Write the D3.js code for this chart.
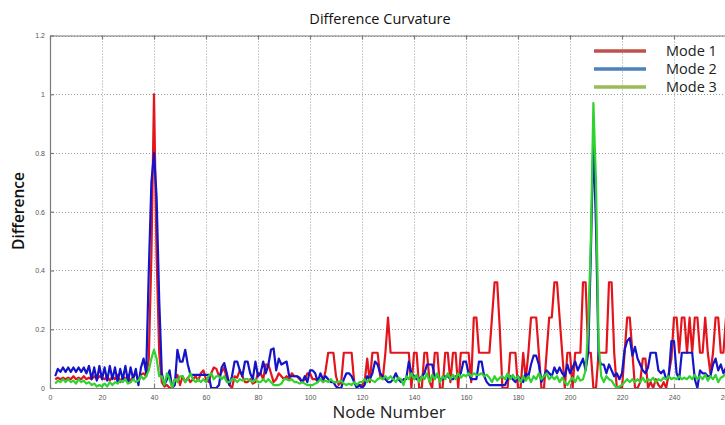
<!DOCTYPE html>
<html>
<head>
<meta charset="utf-8">
<script src="https://cdn.jsdelivr.net/npm/d3@7"></script>
<style>
  html, body { margin: 0; padding: 0; background: #fff; }
  svg { display: block; }
</style>
</head>
<body>
<svg id="chart" width="725" height="425"></svg>
<script>
// Node numbers 2..260
const nodes = d3.range(2, 261);

// Mode 1 difference curvature per node
const mode1 = [
  0.03,0.035,0.03,0.035,0.03,0.035,0.03,0.04,0.03,
  0.035,0.03,0.04,0.03,0.035,0.03,0.04,0.03,0.04,0.035,
  0.03,0.04,0.025,0.04,0.03,0.045,0.02,0.04,0.03,0.045,
  0.02,0.04,0.05,0.025,0.045,0.05,0.04,0.1,0.45,1.0,
  0.45,0.12,0.02,0.005,0.01,0.0,0.0,0.03,0.045,0.01,
  0.04,0.02,0.035,0.02,0.03,0.04,0.025,0.05,0.06,0.03,
  0.02,0.05,0.07,0.065,0.04,0.055,0.07,0.03,0.01,0.0,
  0.04,0.035,0.06,0.04,0.02,0.02,0.03,0.015,0.02,0.05,
  0.05,0.03,0.08,0.08,0.05,0.02,0.03,0.05,0.04,0.03,
  0.04,0.03,0.05,0.04,0.04,0.03,0.02,0.03,0.05,0.05,
  0.03,0.03,0.025,0.03,0.02,0.06,0.12,0.12,0.12,0.04,
  0.01,0.02,0.12,0.12,0.12,0.12,0.02,0.01,0.01,0.01,
  0.02,0.1,0.02,0.12,0.12,0.12,0.04,0.03,0.12,0.24,
  0.12,0.12,0.12,0.12,0.12,0.12,0.12,0.12,0.0,0.12,
  0.12,0.0,0.0,0.12,0.12,0.02,0.0,0.12,0.12,0.0,
  0.0,0.12,0.12,0.02,0.12,0.12,0.0,0.12,0.12,0.12,
  0.12,0.02,0.24,0.24,0.12,0.12,0.12,0.12,0.12,0.24,
  0.36,0.36,0.2,0.0,0.0,0.0,0.12,0.12,0.12,0.0,
  0.0,0.12,0.03,0.12,0.24,0.24,0.24,0.12,0.0,0.0,
  0.12,0.24,0.24,0.36,0.36,0.24,0.12,0.0,0.12,0.12,
  0.0,0.12,0.12,0.12,0.36,0.36,0.12,0.12,0.0,0.0,
  0.12,0.12,0.12,0.12,0.36,0.36,0.12,0.0,0.0,0.0,
  0.12,0.24,0.24,0.12,0.0,0.0,0.02,0.1,0.1,0.0,
  0.02,0.0,0.03,0.01,0.0,0.02,0.0,0.05,0.1,0.24,
  0.24,0.12,0.24,0.24,0.12,0.24,0.12,0.24,0.24,0.12,
  0.12,0.24,0.12,0.05,0.12,0.24,0.24,0.12,0.12,0.24
];

// Mode 2 difference curvature per node
const mode2 = [
  0.04,0.065,0.055,0.07,0.055,0.07,0.055,0.07,0.055,
  0.07,0.055,0.07,0.05,0.075,0.03,0.07,0.025,0.075,0.03,
  0.07,0.025,0.075,0.03,0.07,0.02,0.065,0.03,0.075,0.02,
  0.07,0.03,0.065,0.01,0.07,0.1,0.05,0.4,0.7,0.8,
  0.65,0.3,0.05,0.01,0.03,0.06,0.0,0.01,0.13,0.09,
  0.09,0.13,0.08,0.045,0.045,0.045,0.045,0.045,0.045,0.045,
  0.045,0.0,0.0,0.0,0.01,0.07,0.085,0.05,0.01,0.04,
  0.09,0.09,0.06,0.04,0.09,0.09,0.05,0.03,0.09,0.04,
  0.05,0.09,0.05,0.08,0.13,0.135,0.06,0.1,0.08,0.085,
  0.09,0.04,0.04,0.04,0.04,0.035,0.02,0.04,0.02,0.06,
  0.06,0.05,0.02,0.05,0.03,0.04,0.03,0.02,0.02,0.005,
  0.0,0.0,0.03,0.05,0.05,0.04,0.02,0.0,0.01,0.0,
  0.01,0.04,0.03,0.05,0.09,0.08,0.05,0.04,0.03,0.02,
  0.02,0.03,0.05,0.03,0.02,0.03,0.03,0.09,0.05,0.04,
  0.03,0.03,0.04,0.05,0.08,0.08,0.08,0.04,0.04,0.03,
  0.03,0.04,0.04,0.03,0.03,0.04,0.04,0.05,0.09,0.09,
  0.05,0.03,0.03,0.03,0.09,0.09,0.04,0.02,0.01,0.01,
  0.01,0.01,0.01,0.01,0.01,0.03,0.04,0.03,0.02,0.04,
  0.03,0.02,0.05,0.04,0.08,0.11,0.11,0.08,0.02,0.04,
  0.06,0.05,0.04,0.07,0.05,0.07,0.05,0.04,0.08,0.05,
  0.07,0.09,0.06,0.08,0.1,0.06,0.12,0.45,0.85,0.55,
  0.1,0.08,0.08,0.05,0.08,0.06,0.04,0.05,0.03,0.05,
  0.13,0.16,0.17,0.11,0.14,0.1,0.08,0.06,0.05,0.07,
  0.12,0.12,0.12,0.06,0.05,0.06,0.03,0.04,0.16,0.16,
  0.05,0.03,0.12,0.12,0.12,0.12,0.12,0.03,0.0,0.06,
  0.05,0.05,0.04,0.04,0.08,0.1,0.06,0.08,0.05,0.07
];

// Mode 3 difference curvature per node
const mode3 = [
  0.015,0.025,0.02,0.03,0.02,0.03,0.02,0.025,0.015,
  0.03,0.02,0.025,0.015,0.02,0.01,0.015,0.005,0.01,0.005,
  0.015,0.005,0.02,0.01,0.02,0.015,0.025,0.02,0.03,0.015,
  0.02,0.03,0.02,0.025,0.04,0.03,0.04,0.06,0.1,0.13,
  0.1,0.04,0.04,0.01,0.05,0.03,0.0,0.03,0.02,0.04,
  0.04,0.02,0.03,0.05,0.03,0.02,0.03,0.02,0.03,0.02,
  0.04,0.05,0.03,0.04,0.04,0.03,0.04,0.02,0.02,0.03,
  0.03,0.02,0.03,0.025,0.03,0.03,0.025,0.02,0.03,0.02,
  0.02,0.03,0.02,0.03,0.02,0.01,0.01,0.01,0.015,0.03,
  0.03,0.025,0.03,0.02,0.02,0.015,0.02,0.015,0.01,0.01,
  0.01,0.015,0.02,0.03,0.02,0.025,0.02,0.03,0.02,0.02,
  0.02,0.025,0.015,0.01,0.015,0.01,0.02,0.01,0.02,0.02,
  0.03,0.02,0.03,0.025,0.02,0.03,0.035,0.03,0.04,0.03,
  0.04,0.03,0.02,0.035,0.03,0.01,0.04,0.03,0.05,0.03,
  0.045,0.02,0.04,0.03,0.05,0.02,0.045,0.03,0.05,0.02,
  0.04,0.03,0.05,0.03,0.045,0.03,0.05,0.035,0.045,0.04,
  0.05,0.04,0.05,0.045,0.045,0.05,0.04,0.045,0.035,0.02,
  0.04,0.025,0.035,0.04,0.03,0.05,0.03,0.045,0.03,0.04,
  0.02,0.04,0.025,0.04,0.02,0.04,0.03,0.05,0.03,0.04,
  0.05,0.03,0.04,0.03,0.04,0.02,0.035,0.02,0.01,0.025,
  0.035,0.02,0.04,0.025,0.03,0.06,0.2,0.5,0.97,0.7,
  0.15,0.04,0.02,0.04,0.03,0.025,0.01,0.0,0.005,0.01,
  0.02,0.03,0.02,0.03,0.02,0.03,0.02,0.035,0.02,0.03,
  0.025,0.035,0.02,0.03,0.025,0.035,0.03,0.04,0.03,0.035,
  0.03,0.04,0.03,0.035,0.03,0.04,0.03,0.045,0.03,0.04,
  0.03,0.045,0.025,0.04,0.03,0.045,0.02,0.035,0.04,0.05
];

const seriesNames = ["Mode 1", "Mode 2", "Mode 3"];
const lineColors = ["#e3141b", "#1414c8", "#2fd22f"];
const legendColors = ["#c0504d", "#4f81bd", "#9bbb59"];

const xTicks = d3.range(0, 261, 20);
const yTicks = [0, 0.2, 0.4, 0.6, 0.8, 1, 1.2];

const svg = d3.select("#chart");
const plotLeft = 50, plotRight = 726, plotTop = 35.5, plotBottom = 388;

const x = d3.scaleLinear().domain([0, 260]).range([plotLeft, plotRight]);
const y = d3.scaleLinear().domain([0, 1.2]).range([plotBottom, plotTop]);

// dotted grid
const grid = svg.append("g").attr("stroke", "#9a9a9a").attr("stroke-width", 1)
  .attr("stroke-dasharray", "1,2");
grid.selectAll(".gx").data(xTicks.slice(1)).join("line")
  .attr("x1", d => Math.round(x(d)) + 0.5).attr("x2", d => Math.round(x(d)) + 0.5)
  .attr("y1", plotTop).attr("y2", plotBottom);
grid.selectAll(".gy").data(yTicks.slice(1)).join("line")
  .attr("x1", plotLeft).attr("x2", plotRight)
  .attr("y1", d => Math.round(y(d)) + 0.5).attr("y2", d => Math.round(y(d)) + 0.5);

// axes: ticks point inward, labels small and grey
const axisFont = "Liberation Sans, Arial, sans-serif";
const xAxis = svg.append("g").attr("transform", `translate(0,${plotBottom})`)
  .call(d3.axisBottom(x).tickValues(xTicks).tickFormat(d3.format("d")).tickSizeInner(-4).tickSizeOuter(0).tickPadding(7));
const yAxis = svg.append("g").attr("transform", `translate(${plotLeft},0)`)
  .call(d3.axisLeft(y).tickValues(yTicks).tickFormat(d => d === 0 ? "0" : d3.format("~g")(d)).tickSizeInner(-4).tickSizeOuter(0).tickPadding(5));
const xTop = svg.append("g").attr("transform", `translate(0,${plotTop})`)
  .call(d3.axisTop(x).tickValues(xTicks).tickFormat("").tickSizeInner(-4).tickSizeOuter(0));
[xAxis, yAxis, xTop].forEach(g => {
  g.select(".domain").attr("stroke", "#7a7a7a").attr("stroke-width", 1.2);
  g.selectAll(".tick line").attr("stroke", "#7a7a7a").attr("stroke-width", 1.2);
  g.selectAll(".tick text").attr("fill", "#555").attr("font-size", 7).attr("font-family", axisFont);
});

// data lines, clipped to the plot box
svg.append("clipPath").attr("id", "plot-clip").append("rect")
  .attr("x", plotLeft).attr("y", plotTop - 2).attr("width", plotRight - plotLeft).attr("height", plotBottom - plotTop + 2);
const line = d3.line().x((d, i) => x(nodes[i])).y(d => y(d));
const lines = svg.append("g").attr("clip-path", "url(#plot-clip)");
[mode1, mode2, mode3].forEach((vals, k) => {
  lines.append("path").datum(vals)
    .attr("fill", "none").attr("stroke", lineColors[k]).attr("stroke-width", 2.2)
    .attr("stroke-linejoin", "round").attr("d", line);
});

// titles
const textFont = "'Open Sans', 'Noto Sans', sans-serif";
svg.append("text").attr("x", 380).attr("y", 24).attr("text-anchor", "middle")
  .attr("font-family", textFont).attr("font-size", 14.5).attr("fill", "#111")
  .text("Difference Curvature");
svg.append("text").attr("x", 389).attr("y", 418).attr("text-anchor", "middle")
  .attr("font-family", textFont).attr("font-size", 17).attr("fill", "#222")
  .text("Node Number");
svg.append("text").attr("transform", "translate(24,211) rotate(-90)").attr("text-anchor", "middle")
  .attr("font-family", textFont).attr("font-size", 15.5).attr("font-weight", 600).attr("fill", "#111")
  .text("Difference");

// legend
const legend = svg.append("g");
seriesNames.forEach((name, k) => {
  const ly = 51 + k * 18;
  legend.append("line").attr("x1", 594).attr("x2", 646).attr("y1", ly).attr("y2", ly)
    .attr("stroke", legendColors[k]).attr("stroke-width", 3.5);
  legend.append("text").attr("x", 666).attr("y", ly + 5)
    .attr("font-family", textFont).attr("font-size", 14.5).attr("fill", "#222")
    .text(name);
});
</script>
</body>
</html>
